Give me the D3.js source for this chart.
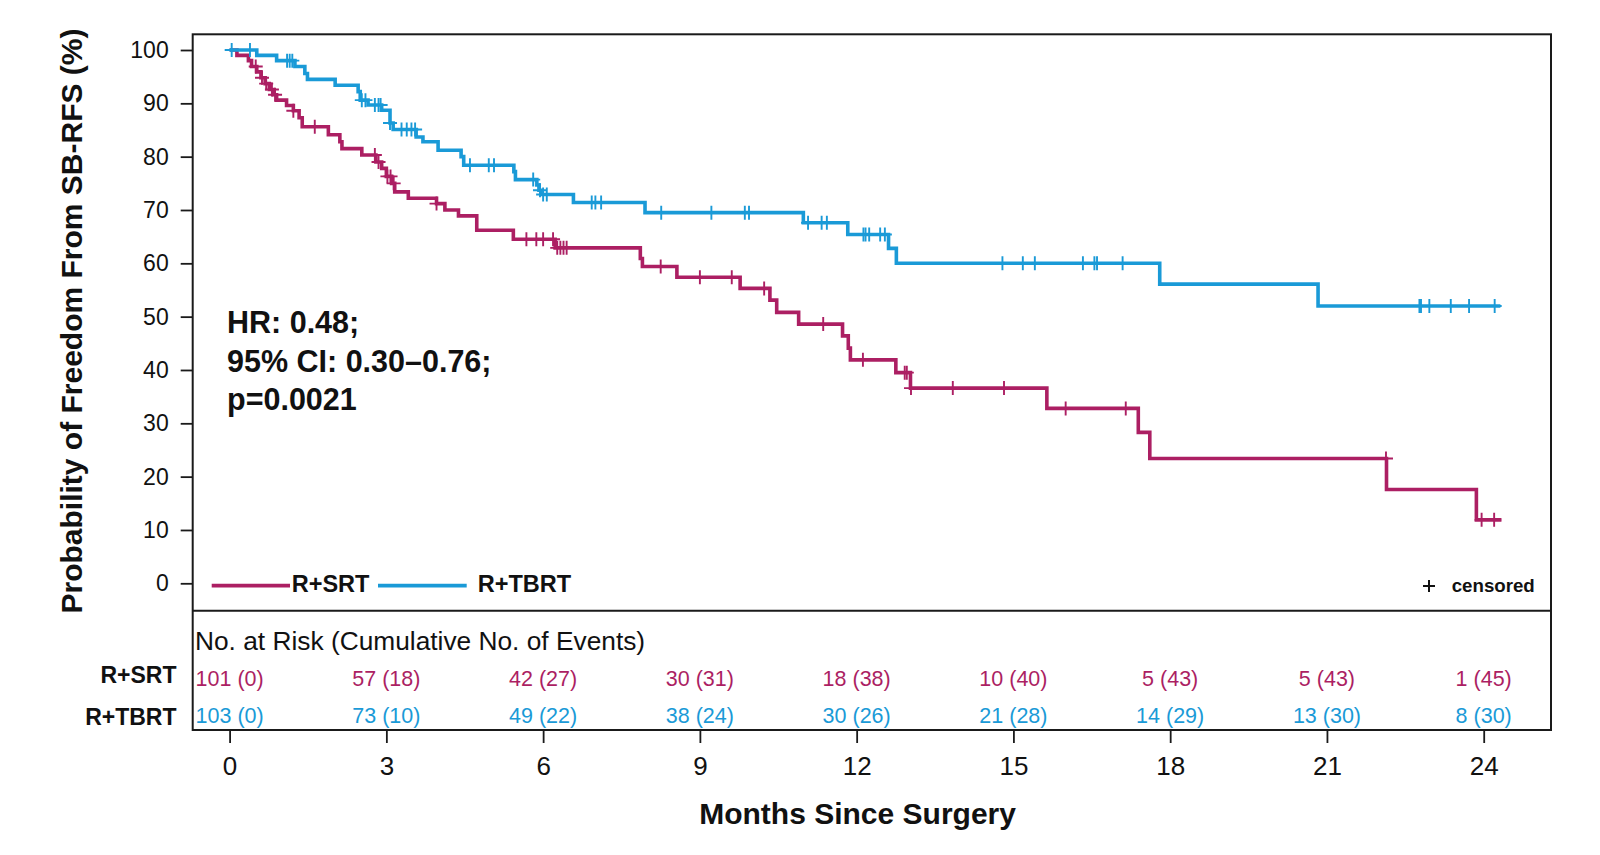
<!DOCTYPE html>
<html><head><meta charset="utf-8">
<script src="https://cdn.jsdelivr.net/npm/d3@7"></script>
<style>
html,body{margin:0;padding:0;background:#fff;}
svg{display:block;font-family:"Liberation Sans",Arial,Helvetica,sans-serif;}
</style></head>
<body><svg id="chart" width="1600" height="855"></svg>
<script>
// ---------------- data ----------------
const monthTicks = [0,3,6,9,12,15,18,21,24];
const probTicks = [0,10,20,30,40,50,60,70,80,90,100];
const groups = ["R+SRT","R+TBRT"];

// R+SRT step curve (time of drop in months, survival % after drop)
const srtTimes = [0,0.14,0.36,0.42,0.52,0.60,0.68,0.76,0.84,0.90,1.09,1.22,1.33,1.39,1.89,2.11,2.15,2.53,2.80,2.91,3.00,3.10,3.16,3.42,3.96,4.12,4.38,4.73,5.43,6.23,7.86,7.90,8.56,9.77,10.34,10.47,10.89,11.73,11.84,11.88,12.75,13.03,15.64,17.39,17.61,22.14,23.86];
const srtSurv  = [100,99.0,98.0,96.9,95.9,94.8,93.7,92.6,91.6,90.6,89.6,88.6,87.3,85.6,84.1,82.8,81.5,80.3,79.0,77.8,76.3,75.0,73.4,72.2,71.2,70.0,68.9,66.2,64.5,62.9,60.9,59.4,57.4,55.3,53.1,50.8,48.6,46.4,44.1,41.9,39.5,36.6,32.8,28.3,23.4,17.6,11.9];
const srtEnd = 24.34;
const srtCensor = [0.50,0.62,0.70,0.81,0.87,1.22,1.63,2.78,2.85,3.02,3.08,3.14,3.96,5.68,5.87,6.00,6.19,6.27,6.33,6.39,6.45,8.25,9.00,9.61,10.23,11.36,12.12,12.92,12.96,13.04,13.84,14.82,16.00,17.15,22.13,23.96,24.20];

// R+TBRT step curve
const tbrtTimes = [0,0.52,0.90,1.25,1.44,1.49,2.02,2.46,2.50,2.65,2.91,3.07,3.13,3.57,3.70,3.99,4.43,4.48,5.44,5.47,5.88,5.92,5.96,6.58,7.95,10.98,11.83,12.61,12.76,17.80,20.83];
const tbrtSurv  = [100,99.0,98.0,96.9,95.6,94.5,93.4,92.2,90.6,89.7,88.7,86.3,85.1,83.7,82.8,81.2,80.0,78.4,77.2,75.7,74.7,73.7,72.9,71.4,69.5,67.6,65.4,62.8,60.0,56.1,52.0];
const tbrtEnd = 24.32;
const tbrtCensor = [0.04,0.39,1.10,1.15,1.20,2.53,2.60,2.78,2.85,2.89,3.07,3.29,3.39,3.48,3.55,4.60,4.96,5.06,5.81,5.94,6.00,6.07,6.93,7.00,7.11,8.26,9.22,9.86,9.94,11.07,11.33,11.43,12.13,12.17,12.24,12.45,12.54,14.79,15.18,15.41,16.33,16.55,16.60,17.09,22.77,22.80,22.96,23.37,23.72,24.21];

// number at risk (cumulative events)
const atRiskSRT  = [101,57,42,30,18,10,5,5,1];
const eventsSRT  = [0,18,27,31,38,40,43,43,45];
const atRiskTBRT = [103,73,49,38,30,21,14,13,8];
const eventsTBRT = [0,10,22,24,26,28,29,30,30];

const statsLines = ["HR: 0.48;","95% CI: 0.30\u20130.76;","p=0.0021"];

// ---------------- layout ----------------
const colors = {"R+SRT":"#AC1F63","R+TBRT":"#1A9AD7"};
const frame = {left:192.7, top:34.3, right:1551, mid:610.7, bottom:730};

const svg = d3.select("#chart");
const x = d3.scaleLinear().domain([0,24]).range([229.6,1483.7]);
const y = d3.scaleLinear().domain([0,100]).range([583.3,50]);

// frame
const fr = svg.append("g").attr("stroke","#1a1a1a").attr("stroke-width",2).attr("fill","none");
fr.append("rect").attr("x",frame.left).attr("y",frame.top).attr("width",frame.right-frame.left).attr("height",frame.bottom-frame.top);
fr.append("line").attr("x1",frame.left).attr("x2",frame.right).attr("y1",frame.mid).attr("y2",frame.mid);

// y axis
const yAxis = svg.append("g").attr("transform",`translate(${frame.left},0)`)
  .call(d3.axisLeft(y).tickValues(probTicks).tickSize(12).tickPadding(12).tickFormat(d3.format("d")));
yAxis.select(".domain").remove();
yAxis.selectAll("line").attr("stroke","#1a1a1a").attr("stroke-width",1.8);
yAxis.selectAll("text").attr("font-size",23).attr("fill","#111").attr("font-family","Liberation Sans, Arial, sans-serif");

// x axis
const xAxis = svg.append("g").attr("transform",`translate(0,${frame.bottom})`)
  .call(d3.axisBottom(x).tickValues(monthTicks).tickSize(13).tickPadding(14));
xAxis.select(".domain").remove();
xAxis.selectAll("line").attr("stroke","#1a1a1a").attr("stroke-width",1.8);
xAxis.selectAll("text").attr("font-size",26).attr("fill","#111").attr("font-family","Liberation Sans, Arial, sans-serif");

// axis titles
svg.append("text").attr("x",857.6).attr("y",824).attr("text-anchor","middle")
  .attr("font-size",30).attr("font-weight","bold").attr("fill","#111").text("Months Since Surgery");
svg.append("text").attr("transform","translate(82,321) rotate(-90)").attr("text-anchor","middle")
  .attr("font-size",30).attr("font-weight","bold").attr("fill","#111").text("Probability of Freedom From SB-RFS (%)");

// curves
function stepPoints(times, surv, end){
  const pts = times.map((t,i)=>[t,surv[i]]);
  pts.push([end, surv[surv.length-1]]);
  return pts;
}
function survAt(times, surv, t){
  const i = d3.bisectRight(times, t) - 1;
  return surv[Math.max(0,i)];
}
const line = d3.line().x(d=>x(d[0])).y(d=>y(d[1])).curve(d3.curveStepAfter);
const series = [
  {name:"R+SRT", times:srtTimes, surv:srtSurv, end:srtEnd, cens:srtCensor},
  {name:"R+TBRT", times:tbrtTimes, surv:tbrtSurv, end:tbrtEnd, cens:tbrtCensor}
];
series.forEach(s=>{
  svg.append("path").datum(stepPoints(s.times,s.surv,s.end))
    .attr("d",line).attr("fill","none").attr("stroke",colors[s.name])
    .attr("stroke-width",3.6).attr("stroke-linejoin","miter");
  svg.append("g").selectAll("path").data(s.cens).join("path")
    .attr("transform",t=>`translate(${x(t)},${y(survAt(s.times,s.surv,t))})`)
    .attr("d","M-7,0H7M0,-7V7")
    .attr("stroke",colors[s.name]).attr("stroke-width",1.9).attr("fill","none");
});

// stats text
svg.append("g").selectAll("text").data(statsLines).join("text")
  .attr("x",227).attr("y",(d,i)=>333+i*38.5)
  .attr("font-size",30.5).attr("font-weight","bold").attr("fill","#111").text(d=>d);

// legend
const leg = [
  {name:"R+SRT", x1:211.7, x2:290, tx:291.7},
  {name:"R+TBRT", x1:378, x2:466.7, tx:477.7}
];
leg.forEach(l=>{
  svg.append("line").attr("x1",l.x1).attr("x2",l.x2).attr("y1",585.7).attr("y2",585.7)
    .attr("stroke",colors[l.name]).attr("stroke-width",3.8);
  svg.append("text").attr("x",l.tx).attr("y",591.7).attr("font-size",23.5)
    .attr("font-weight","bold").attr("fill","#111").text(l.name);
});
svg.append("path").attr("transform","translate(1429,586)").attr("d","M-6,0H6M0,-6V6")
  .attr("stroke","#111").attr("stroke-width",2).attr("fill","none");
svg.append("text").attr("x",1451.7).attr("y",591.7).attr("font-size",18.7)
  .attr("font-weight","bold").attr("fill","#111").text("censored");

// risk table
svg.append("text").attr("x",195).attr("y",650).attr("font-size",26.3).attr("fill","#111")
  .text("No. at Risk (Cumulative No. of Events)");
const rows = [
  {name:"R+SRT", risk:atRiskSRT, ev:eventsSRT, base:686, lbase:682.5},
  {name:"R+TBRT", risk:atRiskTBRT, ev:eventsTBRT, base:722.7, lbase:724.5}
];
rows.forEach(r=>{
  svg.append("text").attr("x",176.5).attr("y",r.lbase).attr("text-anchor","end")
    .attr("font-size",23).attr("font-weight","bold").attr("fill","#111").text(r.name);
  svg.append("g").selectAll("text").data(monthTicks).join("text")
    .attr("x",d=>x(d)).attr("y",r.base).attr("text-anchor","middle")
    .attr("font-size",21.5).attr("fill",colors[r.name])
    .text((d,i)=>`${r.risk[i]} (${r.ev[i]})`);
});
</script></body></html>
